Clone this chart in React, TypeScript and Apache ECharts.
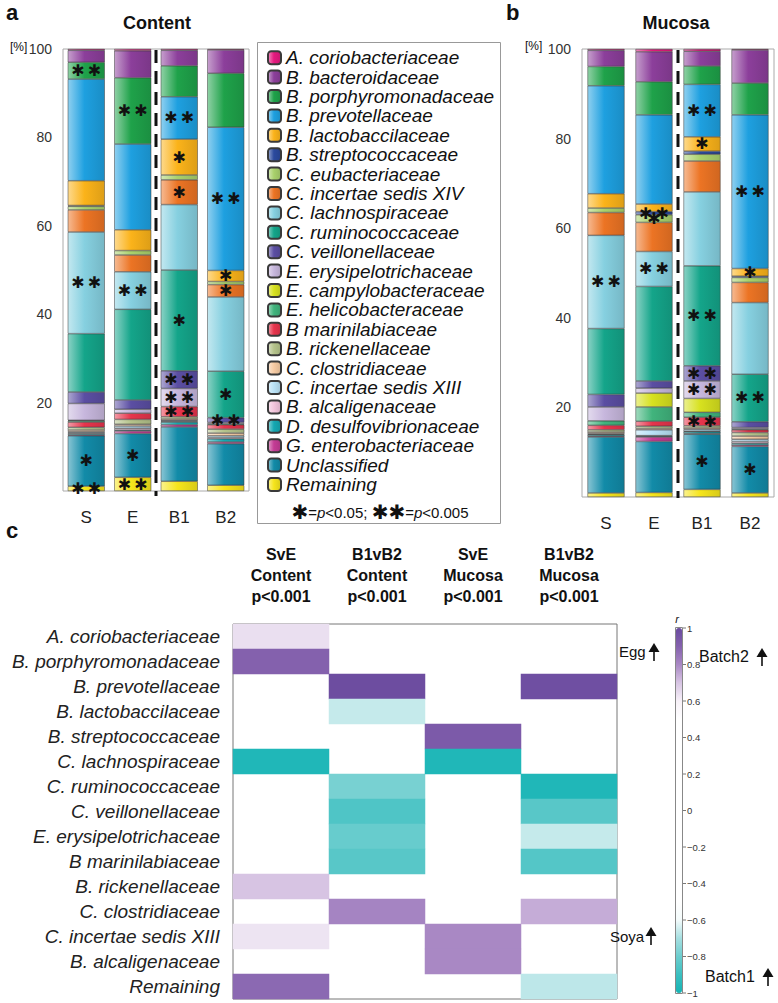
import React, { useEffect, useRef } from "react";
import * as echarts from "echarts";

const FONT = "'Liberation Sans', Arial, Helvetica, sans-serif";

const taxa = [
  "A. coriobacteriaceae", "B. bacteroidaceae", "B. porphyromonadaceae", "B. prevotellaceae",
  "B. lactobaccilaceae", "B. streptococcaceae", "C. eubacteriaceae", "C. incertae sedis XIV",
  "C. lachnospiraceae", "C. ruminococcaceae", "C. veillonellaceae", "E. erysipelotrichaceae",
  "E. campylobacteraceae", "E. helicobacteraceae", "B marinilabiaceae", "B. rickenellaceae",
  "C. clostridiaceae", "C. incertae sedis XIII", "B. alcaligenaceae", "D. desulfovibrionaceae",
  "G. enterobacteriaceae", "Unclassified", "Remaining",
];
const taxaColors = [
  "#e6197f", "#8c3f9b", "#1fa24a", "#1ea0e0", "#fbb31a", "#2b4a9e", "#a9d16c", "#ec7424",
  "#86d0e0", "#14a58a", "#5b4ea3", "#c7b7dd", "#d7e11f", "#41b47d", "#e7344c", "#b5c38b",
  "#f7cba3", "#b9e2f6", "#f4c5dc", "#15a8b2", "#c43c95", "#128ba8", "#f6e51c",
];
const sampleGroups = ["S", "E", "B1", "B2"];

// relative abundance [%], taxa order
const contentS = [0.3, 2.7, 3.8, 23.0, 5.6, 0.2, 0.8, 5.0, 23.0, 13.2, 2.6, 3.8, 0.1, 0.3, 1.2, 0.6, 0.4, 0.2, 0.2, 0.3, 0.2, 11.4, 1.1];
const contentE = [0.4, 6.1, 15.0, 19.4, 4.7, 0, 1.0, 3.8, 8.5, 20.5, 2.1, 0.9, 0, 0, 1.4, 1.1, 0.4, 0.5, 0.4, 0.2, 0.6, 9.9, 3.1];
const contentB1 = [0.3, 3.5, 7.0, 9.6, 8.1, 0, 1.1, 5.6, 14.8, 22.8, 4.0, 4.1, 0, 0, 2.3, 0.5, 0.3, 0.2, 0.2, 0.6, 0.5, 12.3, 2.2];
const contentB2 = [0.2, 5.3, 12.2, 32.4, 2.5, 0, 0.7, 2.8, 16.8, 10.5, 1.1, 0.3, 0, 0.2, 1.0, 0.9, 0.6, 0.4, 0.3, 0.7, 0.4, 9.4, 1.3];

const mucosaS = [0.3, 3.6, 4.3, 24.1, 3.2, 0, 1.0, 5.1, 20.8, 14.7, 2.8, 3.1, 0, 1.0, 1.0, 0.5, 0.3, 0.2, 0.1, 0.3, 0.2, 12.5, 0.9];
const mucosaE = [0.6, 6.7, 7.4, 19.9, 1.7, 0.7, 1.7, 6.5, 7.8, 21.1, 1.6, 1.1, 3.1, 3.2, 1.1, 0.5, 0.3, 1.3, 0.1, 0.2, 1.0, 11.4, 1.0];
const mucosaB1 = [0.5, 3.3, 4.1, 11.7, 3.2, 0.7, 1.5, 6.9, 16.5, 22.3, 3.4, 3.9, 3.1, 1.1, 1.9, 0.5, 0.3, 0.4, 0.1, 0.4, 0.2, 12.3, 1.7];
const mucosaB2 = [0.2, 7.4, 7.1, 34.3, 1.7, 0.3, 1.1, 4.5, 16.0, 10.6, 1.3, 0.3, 0, 0.2, 0.6, 0.8, 0.7, 0.5, 0.4, 0.4, 0.3, 10.4, 0.9];

// significance markers: [group, taxon, marker]
const contentStars = [
  ["S", "B. porphyromonadaceae", "**"], ["S", "C. lachnospiraceae", "**"], ["S", "Unclassified", "*"], ["S", "Remaining", "**"],
  ["E", "B. porphyromonadaceae", "**"], ["E", "C. lachnospiraceae", "**"], ["E", "Unclassified", "*"], ["E", "Remaining", "**"],
  ["B1", "B. prevotellaceae", "**"], ["B1", "B. lactobaccilaceae", "*"], ["B1", "C. incertae sedis XIV", "*"],
  ["B1", "C. ruminococcaceae", "*"], ["B1", "C. veillonellaceae", "**"], ["B1", "E. erysipelotrichaceae", "**"], ["B1", "B marinilabiaceae", "**"],
  ["B2", "B. prevotellaceae", "**"], ["B2", "B. lactobaccilaceae", "*"], ["B2", "C. incertae sedis XIV", "*"],
  ["B2", "C. ruminococcaceae", "*"], ["B2", "C. veillonellaceae", "**"],
];
const mucosaStars = [
  ["S", "C. lachnospiraceae", "**"],
  ["E", "B. streptococcaceae", "**"], ["E", "C. eubacteriaceae", "*"], ["E", "C. lachnospiraceae", "**"],
  ["B1", "B. prevotellaceae", "**"], ["B1", "B. lactobaccilaceae", "*"], ["B1", "C. ruminococcaceae", "**"],
  ["B1", "C. veillonellaceae", "**"], ["B1", "E. erysipelotrichaceae", "**"], ["B1", "B marinilabiaceae", "**"], ["B1", "Unclassified", "*"],
  ["B2", "B. prevotellaceae", "**"], ["B2", "B. lactobaccilaceae", "*"], ["B2", "C. ruminococcaceae", "**"], ["B2", "Unclassified", "*"],
];

const heatRows = [
  "A. coriobacteriaceae", "B. porphyromonadaceae", "B. prevotellaceae", "B. lactobaccilaceae",
  "B. streptococcaceae", "C. lachnospiraceae", "C. ruminococcaceae", "C. veillonellaceae",
  "E. erysipelotrichaceae", "B marinilabiaceae", "B. rickenellaceae", "C. clostridiaceae",
  "C. incertae sedis XIII", "B. alcaligenaceae", "Remaining",
];
const heatCols = ["SvE\nContent\np<0.001", "B1vB2\nContent\np<0.001", "SvE\nMucosa\np<0.001", "B1vB2\nMucosa\np<0.001"];
const rSvEContent = [0.64, 0.9, null, null, null, -0.97, null, null, null, null, 0.7, null, 0.63, null, 0.88];
const rB1B2Content = [null, null, 0.99, -0.66, null, null, -0.78, -0.86, -0.81, -0.84, null, 0.81, null, null, null];
const rSvEMucosa = [null, null, null, null, 0.93, -0.97, null, null, null, null, null, null, 0.8, 0.8, null];
const rB1B2Mucosa = [null, null, 0.98, null, null, null, -0.97, -0.84, -0.66, -0.85, null, 0.74, null, null, -0.67];
const colorbarTicks = [1, 0.8, 0.6, 0.4, 0.2, 0, -0.2, -0.4, -0.6, -0.8, -1];

function parseHex(h: string) {
  const n = parseInt(h.slice(1), 16);
  return [(n >> 16) & 255, (n >> 8) & 255, n & 255];
}
function mix(h: string, target: string, t: number) {
  const a = parseHex(h), b = parseHex(target);
  const c = a.map((v, i) => Math.round(v + (b[i] - v) * t));
  return `rgb(${c[0]},${c[1]},${c[2]})`;
}
function grad(c: string) {
  return {
    type: "linear", x: 0, y: 0, x2: 1, y2: 0,
    colorStops: [
      { offset: 0, color: mix(c, "#ffffff", 0.5) },
      { offset: 0.45, color: c },
      { offset: 1, color: mix(c, "#000000", 0.12) },
    ],
  };
}
const starText = (m: string) => (m === "**" ? "✱\u2009✱" : "✱");

function buildOption() {
  const panels = [
    { key: "content", values: [contentS, contentE, contentB1, contentB2], stars: contentStars },
    { key: "mucosa", values: [mucosaS, mucosaE, mucosaB1, mucosaB2], stars: mucosaStars },
  ];
  const series: any[] = [];
  panels.forEach((p, pi) => {
    for (let t = taxa.length - 1; t >= 0; t--) {
      series.push({
        type: "bar",
        name: taxa[t],
        stack: p.key,
        xAxisIndex: pi,
        yAxisIndex: pi,
        barWidth: 37,
        z: 2,
        itemStyle: { color: grad(taxaColors[t]), borderColor: "#3a3a3a", borderWidth: 0.5 },
        label: { show: false, position: "inside", color: "#111", fontSize: 16, fontFamily: "DejaVu Sans", fontWeight: "bold" },
        emphasis: { disabled: true },
        data: sampleGroups.map((g, gi) => {
          const v = p.values[gi][t];
          const val = v === 0 ? "-" : v;
          const st = p.stars.find((s) => s[0] === g && s[1] === taxa[t]);
          return st ? { value: val, label: { show: true, formatter: starText(st[2]) } } : val;
        }),
      });
    }
  });

  const heatCols4 = [rSvEContent, rB1B2Content, rSvEMucosa, rB1B2Mucosa];
  const heatData: any[] = [];
  heatCols4.forEach((col, c) => col.forEach((v, r) => { if (v !== null) heatData.push([c, r, v]); }));
  const heatIndex = series.length;
  series.push({
    type: "heatmap", xAxisIndex: 2, yAxisIndex: 2, data: heatData,
    emphasis: { disabled: true }, itemStyle: { borderWidth: 0 },
  });

  const cbTop = 628, cbH = 365, cbLeft = 676, cbW = 6;
  const T = (x: number, y: number, text: string, extra: any = {}) => ({
    type: "text", x, y, z: 100, silent: true,
    style: { text, fontFamily: FONT, fill: "#111", verticalAlign: "middle", ...extra },
  });
  const arrow = (x: number, yb: number) => [
    { type: "line", z: 100, silent: true, shape: { x1: x, y1: yb, x2: x, y2: yb - 12 }, style: { stroke: "#111", lineWidth: 1.6 } },
    { type: "polygon", z: 100, silent: true, shape: { points: [[x - 5.5, yb - 9], [x, yb - 18], [x + 5.5, yb - 9]] }, style: { fill: "#111" } },
  ];

  const graphics: any[] = [
    T(6, 12, "a", { fontSize: 22, fontWeight: "bold" }),
    T(157, 23, "Content", { fontSize: 18, fontWeight: "bold", align: "center" }),
    T(10, 47, "[%]", { fontSize: 12 }),
    T(506, 12, "b", { fontSize: 22, fontWeight: "bold" }),
    T(676, 23, "Mucosa", { fontSize: 18, fontWeight: "bold", align: "center" }),
    T(525, 46, "[%]", { fontSize: 12 }),
    T(6, 530, "c", { fontSize: 22, fontWeight: "bold" }),
    { type: "rect", z: 100, silent: true, shape: { x: 257.5, y: 42.5, width: 243, height: 481 }, style: { fill: "none", stroke: "#999", lineWidth: 1 } },
    T(380, 512, "{s|✱}{t|=}{p|p}{t|<0.05; }{s|✱✱}{t|=}{p|p}{t|<0.005}", {
      align: "center",
      rich: {
        s: { fontFamily: "DejaVu Sans", fontSize: 20, fontWeight: "bold", fill: "#111" },
        t: { fontFamily: FONT, fontSize: 15, fill: "#111" },
        p: { fontFamily: FONT, fontSize: 15, fontStyle: "italic", fill: "#111" },
      },
    }),
    { type: "line", z: 100, silent: true, shape: { x1: 156, y1: 50, x2: 156, y2: 496 }, style: { stroke: "#111", lineWidth: 3, lineDash: [13, 8] } },
    { type: "line", z: 100, silent: true, shape: { x1: 678, y1: 50, x2: 678, y2: 498 }, style: { stroke: "#111", lineWidth: 3, lineDash: [13, 8] } },
    T(619, 651, "Egg", { fontSize: 15 }),
    ...arrow(654, 661),
    T(699, 656, "Batch2", { fontSize: 16 }),
    ...arrow(762, 666),
    T(610, 936, "Soya", { fontSize: 15 }),
    ...arrow(651, 945),
    T(705, 976, "Batch1", { fontSize: 16 }),
    ...arrow(768, 986),
    T(cbLeft + 1, cbTop - 9, "r", { fontSize: 11, fontStyle: "italic", align: "center" }),
    { type: "rect", z: 100, silent: true, shape: { x: cbLeft - 0.5, y: cbTop - 0.5, width: cbW + 1, height: cbH + 1 }, style: { fill: "none", stroke: "#888", lineWidth: 1 } },
  ];
  colorbarTicks.forEach((v) => {
    const y = cbTop + ((1 - v) / 2) * cbH;
    graphics.push({ type: "line", z: 100, silent: true, shape: { x1: cbLeft + cbW + 1, y1: y, x2: cbLeft + cbW + 4, y2: y }, style: { stroke: "#555", lineWidth: 0.8 } });
    graphics.push(T(cbLeft + cbW + 5, y, v < 0 ? "\u2212" + String(Math.abs(v)) : String(v), { fontSize: 9.5, fill: "#333" }));
  });

  const barX = (gi: number) => ({
    gridIndex: gi, type: "category", data: sampleGroups,
    axisLine: { show: false }, axisTick: { show: false },
    axisLabel: { fontSize: 17, color: "#222", fontFamily: FONT, margin: 18 },
  });
  const barY = (gi: number) => ({
    gridIndex: gi, type: "value", min: 0, max: 100, interval: 20,
    axisLine: { show: false }, axisTick: { show: false }, splitLine: { show: false },
    axisLabel: { fontSize: 14, color: "#333", fontFamily: FONT, margin: 11, formatter: (v: number) => (v === 0 ? "" : String(v)) },
  });

  return {
    animation: false,
    backgroundColor: "#fff",
    textStyle: { fontFamily: FONT },
    grid: [
      { left: 63, top: 49, width: 186, height: 442, show: true, borderColor: "#aaa", borderWidth: 1, backgroundColor: "#fff" },
      { left: 582, top: 49, width: 192, height: 448, show: true, borderColor: "#aaa", borderWidth: 1, backgroundColor: "#fff" },
      { left: 233, top: 624, width: 384, height: 375, show: true, borderColor: "#777", borderWidth: 1, backgroundColor: "#fff" },
    ],
    xAxis: [
      barX(0), barX(1),
      {
        gridIndex: 2, type: "category", data: heatCols, position: "top",
        axisLine: { show: false }, axisTick: { show: false }, splitLine: { show: false },
        axisLabel: { fontSize: 16, fontWeight: "bold", color: "#111", fontFamily: FONT, lineHeight: 21, margin: 17 },
      },
    ],
    yAxis: [
      barY(0), barY(1),
      {
        gridIndex: 2, type: "category", data: heatRows, inverse: true,
        axisLine: { show: false }, axisTick: { show: false }, splitLine: { show: false },
        axisLabel: { fontSize: 19, fontStyle: "italic", color: "#222", fontFamily: FONT, margin: 13 },
      },
    ],
    legend: {
      orient: "vertical", left: 267, top: 48, padding: 0,
      itemWidth: 13, itemHeight: 13, itemGap: 0, itemTextGap: 10,
      selectedMode: false,
      data: taxa,
      textStyle: { fontSize: 19, fontStyle: "italic", color: "#111", fontFamily: FONT, lineHeight: 19.4 },
    },
    visualMap: {
      type: "continuous", min: -1, max: 1, seriesIndex: heatIndex,
      orient: "vertical", left: cbLeft, top: cbTop, itemWidth: cbW, itemHeight: cbH,
      calculable: false, padding: 0, hoverLink: false,
      inRange: {
        color: [
          "#15b4b4", "#3bbfc0", "#6ccdce", "#a6dfe1", "#f4fbfb",
          "#ffffff", "#ffffff", "#ffffff", "#ffffff", "#ffffff", "#ffffff",
          "#ffffff", "#ffffff", "#ffffff", "#ffffff", "#ffffff",
          "#f7f1f8", "#d7c4e3", "#a988c4", "#8461ad", "#6a4b9f",
        ],
      },
    },
    graphic: { elements: graphics },
    series,
  };
}

export default function App() {
  const ref = useRef<HTMLDivElement>(null);
  useEffect(() => {
    if (!ref.current) return;
    const chart = echarts.init(ref.current, null, { renderer: "svg" });
    chart.setOption(buildOption() as any);
    return () => chart.dispose();
  }, []);
  return (
    <div
      ref={ref}
      style={{ position: "absolute", left: 0, top: 0, width: 778, height: 1003, background: "#fff" }}
    />
  );
}
